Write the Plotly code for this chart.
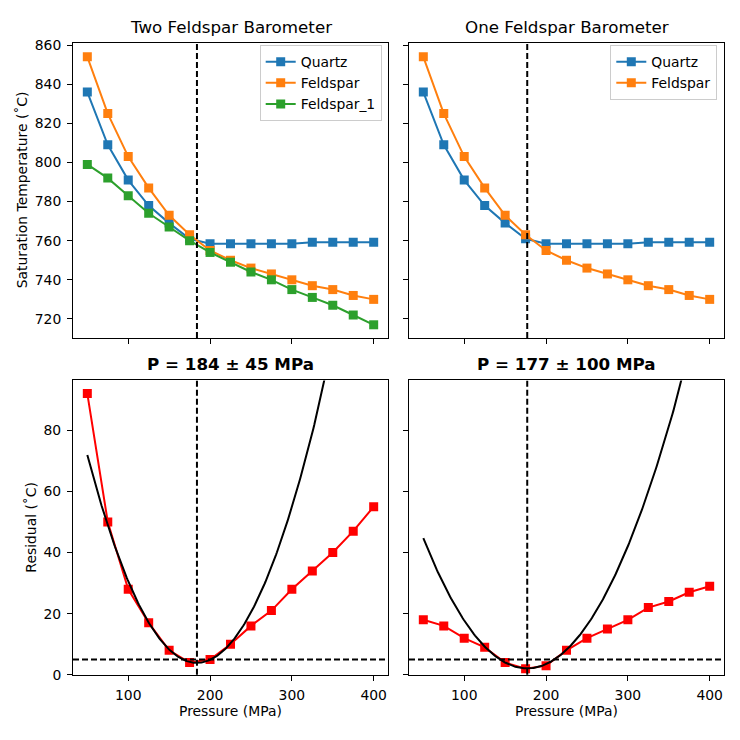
import numpy as np
import plotly.graph_objects as go

# ---------------- data ----------------
pressure = [50, 75, 100, 125, 150, 175, 200, 225, 250, 275, 300, 325, 350, 375, 400]

quartz_T = [836, 809, 791, 778, 769, 761, 758.5, 758.5, 758.5, 758.5, 758.5, 759.2, 759.2, 759.2, 759.2]
feldspar_T = [854, 825, 803, 787, 773, 763, 755, 750, 746, 743, 740, 737, 735, 732, 730]
feldspar1_T = [799, 792, 783, 774, 767, 760, 754, 749, 744, 740, 735, 731, 727, 722, 717]

resid_two = [92, 50, 28, 17, 8, 4, 5, 10, 16, 21, 28, 34, 40, 47, 55]
resid_one = [18, 16, 12, 9, 4, 2, 3, 8, 12, 15, 18, 22, 24, 27, 29]

# quadratic fits (vertex pressure, minimum residual, curvature)
fit_two = dict(p0=184, r0=3.9, a=0.003787)
fit_one = dict(p0=177, r0=2.1, a=0.002641)

P_best = [184, 177]
P_err = [45, 100]
threshold = 5

titles_top = ["Two Feldspar Barometer", "One Feldspar Barometer"]

# ---------------- style ----------------
BLUE, ORANGE, GREEN = "#1f77b4", "#ff7f0e", "#2ca02c"
FONT = "DejaVu Sans"
FS = 13.9
W = 740.0

xd = [[73 / W, 388 / W], [409 / W, 724 / W]]
yd_top = [1 - 338.3 / W, 1 - 37.3 / W]
yd_bot = [1 - 681.7 / W, 1 - 381.7 / W]

fig = go.Figure()


def line_trace(x, y, color, name, xa, ya, legend=None, showlegend=True):
    return go.Scatter(
        x=x, y=y, mode="lines+markers", name=name,
        line=dict(color=color, width=2),
        marker=dict(symbol="square", size=9, color=color),
        xaxis=xa, yaxis=ya, legend=legend, showlegend=showlegend,
    )


# top-left
fig.add_trace(line_trace(pressure, quartz_T, BLUE, "Quartz", "x", "y", "legend"))
fig.add_trace(line_trace(pressure, feldspar_T, ORANGE, "Feldspar", "x", "y", "legend"))
fig.add_trace(line_trace(pressure, feldspar1_T, GREEN, "Feldspar_1", "x", "y", "legend"))
# top-right
fig.add_trace(line_trace(pressure, quartz_T, BLUE, "Quartz", "x2", "y2", "legend2"))
fig.add_trace(line_trace(pressure, feldspar_T, ORANGE, "Feldspar", "x2", "y2", "legend2"))

# bottom residuals
fig.add_trace(line_trace(pressure, resid_two, "#ff0000", "resid", "x3", "y3", showlegend=False))
fig.add_trace(line_trace(pressure, resid_one, "#ff0000", "resid", "x4", "y4", showlegend=False))

pp = np.linspace(pressure[0], pressure[-1], 300)
for fit, xa, ya in [(fit_two, "x3", "y3"), (fit_one, "x4", "y4")]:
    rr = fit["a"] * (pp - fit["p0"]) ** 2 + fit["r0"]
    fig.add_trace(go.Scatter(x=pp, y=rr, mode="lines", line=dict(color="black", width=2),
                             xaxis=xa, yaxis=ya, showlegend=False))

DASH = "6px,3px"
# vertical dashed lines
for xa, ya, p in [("x", "y", P_best[0]), ("x2", "y2", P_best[1]),
                  ("x3", "y3", P_best[0]), ("x4", "y4", P_best[1])]:
    fig.add_shape(type="line", xref=xa, yref=ya + " domain", x0=p, x1=p, y0=0, y1=1,
                  line=dict(color="black", width=2, dash=DASH))
# horizontal threshold
for xa, ya in [("x3", "y3"), ("x4", "y4")]:
    fig.add_shape(type="line", xref=xa + " domain", yref=ya, x0=0, x1=1, y0=threshold, y1=threshold,
                  line=dict(color="black", width=2, dash=DASH))

xrange_ = [32.5, 417.5]
common_axis = dict(showline=True, linecolor="black", linewidth=1, mirror=True,
                   ticks="outside", ticklen=5, tickcolor="black", tickwidth=1,
                   ticklabelstandoff=3,
                   showgrid=False, zeroline=False,
                   tickfont=dict(family=FONT, size=FS, color="black"))

fig.update_layout(
    width=740, height=740, margin=dict(l=0, r=0, t=0, b=0),
    paper_bgcolor="white", plot_bgcolor="white",
    font=dict(family=FONT, size=FS, color="black"),
    xaxis=dict(domain=xd[0], anchor="y", range=xrange_, tickvals=[100, 200, 300, 400],
               showticklabels=False, **common_axis),
    yaxis=dict(domain=yd_top, anchor="x", range=[710.3, 861.3], dtick=20, **common_axis),
    xaxis2=dict(domain=xd[1], anchor="y2", range=xrange_, tickvals=[100, 200, 300, 400],
                showticklabels=False, **common_axis),
    yaxis2=dict(domain=yd_top, anchor="x2", range=[710.3, 861.3], dtick=20,
                showticklabels=False, **common_axis),
    xaxis3=dict(domain=xd[0], anchor="y3", range=xrange_, tickvals=[100, 200, 300, 400], **common_axis),
    yaxis3=dict(domain=yd_bot, anchor="x3", range=[0, 96.3], tickvals=[0, 20, 40, 60, 80], **common_axis),
    xaxis4=dict(domain=xd[1], anchor="y4", range=xrange_, tickvals=[100, 200, 300, 400], **common_axis),
    yaxis4=dict(domain=yd_bot, anchor="x4", range=[0, 96.3], tickvals=[0, 20, 40, 60, 80],
                showticklabels=False, **common_axis),
    legend=dict(x=381.7 / W, y=1 - 40 / W, xanchor="right", yanchor="top",
                bgcolor="rgba(255,255,255,0.8)", bordercolor="#cccccc", borderwidth=1,
                font=dict(family=FONT, size=FS), tracegroupgap=0, itemwidth=30),
    legend2=dict(x=717.3 / W, y=1 - 40 / W, xanchor="right", yanchor="top",
                 bgcolor="rgba(255,255,255,0.8)", bordercolor="#cccccc", borderwidth=1,
                 font=dict(family=FONT, size=FS), tracegroupgap=0, itemwidth=30),
    showlegend=True,
)

ann = []
for i, t in enumerate(titles_top):
    ann.append(dict(text=t, x=(xd[i][0] + xd[i][1]) / 2, y=1 - 21 / W, xref="paper", yref="paper",
                    showarrow=False, font=dict(family=FONT, size=16.7, color="black"),
                    xanchor="center", yanchor="middle"))
for i in range(2):
    ann.append(dict(text="<b>P = %d ± %d MPa</b>" % (P_best[i], P_err[i]),
                    x=(xd[i][0] + xd[i][1]) / 2, y=1 - 365 / W, xref="paper", yref="paper",
                    showarrow=False, font=dict(family=FONT, size=16.7, color="black"),
                    xanchor="center", yanchor="middle"))
    ann.append(dict(text="Pressure (MPa)", x=(xd[i][0] + xd[i][1]) / 2, y=1 - 719 / W,
                    xref="paper", yref="paper", showarrow=False,
                    font=dict(family=FONT, size=FS, color="black"),
                    xanchor="center", yanchor="middle"))
ann.append(dict(text="Saturation Temperature (˚C)", x=22 / W, y=(yd_top[0] + yd_top[1]) / 2,
                xref="paper", yref="paper", showarrow=False, textangle=-90,
                font=dict(family=FONT, size=FS, color="black"), xanchor="center", yanchor="middle"))
ann.append(dict(text="Residual (˚C)", x=31 / W, y=(yd_bot[0] + yd_bot[1]) / 2,
                xref="paper", yref="paper", showarrow=False, textangle=-90,
                font=dict(family=FONT, size=FS, color="black"), xanchor="center", yanchor="middle"))
fig.update_layout(annotations=ann)

fig.write_html("out.html")
